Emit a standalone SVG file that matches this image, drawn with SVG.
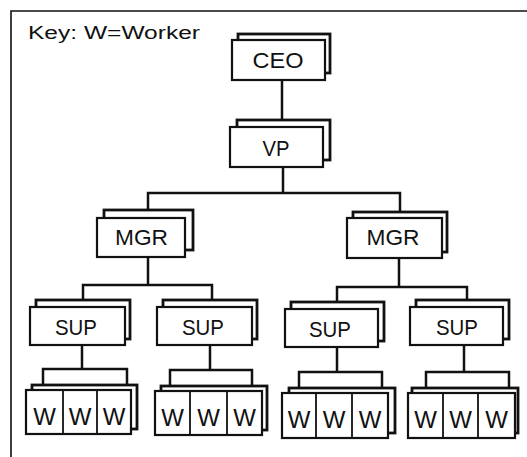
<svg xmlns="http://www.w3.org/2000/svg" width="527" height="457" viewBox="0 0 527 457">
<style>
.bg{fill:#fff}
.back{fill:#fff;stroke:#111;stroke-width:2.8}
.front{fill:#fff;stroke:#111;stroke-width:2.2}
.div{stroke:#111;stroke-width:1.8;fill:none}
.conn{stroke:#111;stroke-width:2.5;fill:none}
.frame{stroke:#111;stroke-width:1.6;fill:none}
text{font-family:"Liberation Sans","DejaVu Sans",sans-serif;fill:#111;text-anchor:middle}
.lbl{font-size:22px}
.w{font-size:24px}
.key{font-size:18px;text-anchor:start}
</style>
<rect class="bg" x="0" y="0" width="527" height="457"/>
<path class="frame" d="M11,457 V11 H527"/>
<text class="key" x="28" y="39" textLength="172" lengthAdjust="spacingAndGlyphs">Key: W=Worker</text>

<g id="connectors">
  <path class="conn" d="M282,80 V127"/>
  <path class="conn" d="M283,167 V193 M148,210 V193 H400 V212"/>
  <path class="conn" d="M148,257 V285 M83,301 V285 H212 V301"/>
  <path class="conn" d="M399,258 V287 M337,302 V287 H467 V302"/>
  <path class="conn" d="M82,345 V369 M43,385 V369 H127 V385"/>
  <path class="conn" d="M210,345 V370 M170,386 V370 H252 V386"/>
  <path class="conn" d="M337,347 V372 M299,388 V372 H382 V388"/>
  <path class="conn" d="M464,345 V372 M426,388 V372 H509 V388"/>
</g>

<g id="ceo">
  <rect class="back" x="238" y="34" width="92" height="39"/>
  <rect class="front" x="232" y="40" width="93" height="40"/>
  <text class="lbl" x="278" y="68" textLength="51" lengthAdjust="spacingAndGlyphs">CEO</text>
</g>
<g id="vp">
  <rect class="back" x="237" y="120" width="93" height="40"/>
  <rect class="front" x="230" y="127" width="93" height="40"/>
  <text class="lbl" x="276" y="156" textLength="27" lengthAdjust="spacingAndGlyphs">VP</text>
</g>
<g id="mgr1">
  <rect class="back" x="104" y="210" width="89" height="40"/>
  <rect class="front" x="97" y="218" width="88" height="39"/>
  <text class="lbl" x="141.5" y="245" textLength="53" lengthAdjust="spacingAndGlyphs">MGR</text>
</g>
<g id="mgr2">
  <rect class="back" x="353" y="212" width="94" height="40"/>
  <rect class="front" x="347" y="218" width="95" height="40"/>
  <text class="lbl" x="393" y="245" textLength="53" lengthAdjust="spacingAndGlyphs">MGR</text>
</g>
<g id="sup1">
  <rect class="back" x="36" y="300" width="94" height="39"/>
  <rect class="front" x="30" y="307" width="95" height="38"/>
  <text class="lbl" x="76" y="335" textLength="42" lengthAdjust="spacingAndGlyphs">SUP</text>
</g>
<g id="sup2">
  <rect class="back" x="163" y="300" width="94" height="39"/>
  <rect class="front" x="157" y="307" width="95" height="38"/>
  <text class="lbl" x="203" y="335" textLength="42" lengthAdjust="spacingAndGlyphs">SUP</text>
</g>
<g id="sup3">
  <rect class="back" x="291" y="302" width="93" height="39"/>
  <rect class="front" x="285" y="309" width="93" height="38"/>
  <text class="lbl" x="330" y="337" textLength="42" lengthAdjust="spacingAndGlyphs">SUP</text>
</g>
<g id="sup4">
  <rect class="back" x="416" y="300" width="93" height="39"/>
  <rect class="front" x="410" y="307" width="93" height="38"/>
  <text class="lbl" x="457" y="335" textLength="42" lengthAdjust="spacingAndGlyphs">SUP</text>
</g>

<g id="workers1">
  <rect class="back" x="32" y="385" width="105" height="44"/>
  <rect class="front" x="26" y="390" width="105" height="44"/>
  <path class="div" d="M63,390 V434 M97,390 V434"/>
  <text class="w" x="44.5" y="425">W</text>
  <text class="w" x="80" y="425">W</text>
  <text class="w" x="114" y="425">W</text>
</g>
<g id="workers2">
  <rect class="back" x="161" y="386" width="106" height="44"/>
  <rect class="front" x="155" y="391" width="107" height="44"/>
  <path class="div" d="M190,391 V435 M227,391 V435"/>
  <text class="w" x="172.5" y="426">W</text>
  <text class="w" x="208.5" y="426">W</text>
  <text class="w" x="244.5" y="426">W</text>
</g>
<g id="workers3">
  <rect class="back" x="289" y="388" width="106" height="45"/>
  <rect class="front" x="282" y="393" width="106" height="45"/>
  <path class="div" d="M316,393 V438 M352,393 V438"/>
  <text class="w" x="299" y="428">W</text>
  <text class="w" x="334" y="428">W</text>
  <text class="w" x="370" y="428">W</text>
</g>
<g id="workers4">
  <rect class="back" x="412" y="388" width="106" height="45"/>
  <rect class="front" x="408" y="393" width="107" height="45"/>
  <path class="div" d="M443,393 V438 M478,393 V438"/>
  <text class="w" x="425.5" y="428">W</text>
  <text class="w" x="460.5" y="428">W</text>
  <text class="w" x="496.5" y="428">W</text>
</g>
</svg>
